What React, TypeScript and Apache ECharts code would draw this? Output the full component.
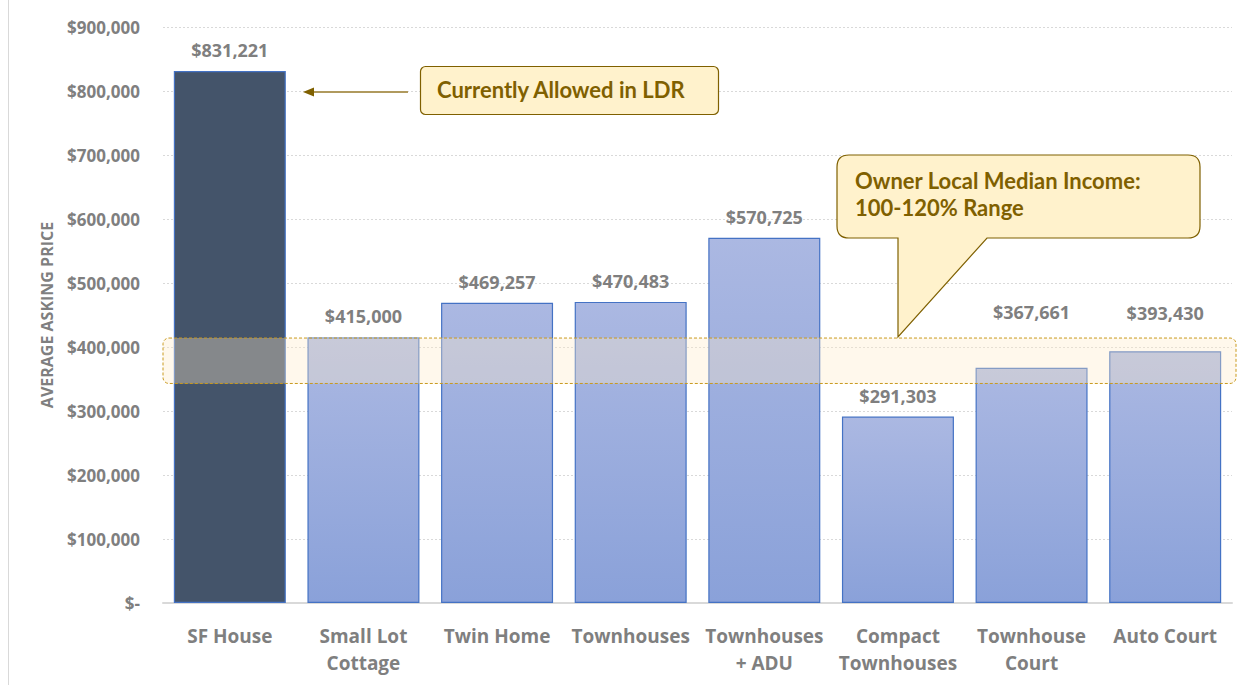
import React, { useEffect, useRef } from "react";
import * as echarts from "echarts";

const categories = [
  "SF House",
  "Small Lot\nCottage",
  "Twin Home",
  "Townhouses",
  "Townhouses\n+ ADU",
  "Compact\nTownhouses",
  "Townhouse\nCourt",
  "Auto Court",
];
const askingPrices = [831221, 415000, 469257, 470483, 570725, 291303, 367661, 393430];
const labelLift = [0, 0, 0, 0, 0, 0, 35, 17];
const yAxisMin = 0;
const yAxisMax = 900000;
const yAxisStep = 100000;
const incomeBand = [343000, 414000];
const ldrArrowValue = 800000;
const ldrText = "Currently Allowed in LDR";
const incomeText = ["Owner Local Median Income:", "100-120% Range"];

const BUBBLE_D =
  "M12,0 H351 Q363,0 363,12 V71 Q363,83 351,83 H150 L61,182 V83 H12 Q0,83 0,71 V12 Q0,0 12,0 Z";
echarts.graphic.registerShape("bubble", echarts.graphic.extendPath(BUBBLE_D, {}));

const GRAY = "#7f7f7f";
const GOLD_TEXT = "#7f6000";
const FONT = "'Open Sans', sans-serif";
const CALLOUT_FONT = "Lato, 'Open Sans', sans-serif";

const fmt = (v: number) => (v === 0 ? "$-" : "$" + v.toLocaleString("en-US"));

export default function App() {
  const ref = useRef<HTMLDivElement>(null);
  useEffect(() => {
    if (!ref.current) return;
    const chart = echarts.init(ref.current, null, { renderer: "svg" });
    const lightGrad = new echarts.graphic.LinearGradient(0, 0, 0, 1, [
      { offset: 0, color: "#abb8e2" },
      { offset: 1, color: "#8aa1d9" },
    ]);
    chart.setOption({
      animation: false,
      backgroundColor: "#ffffff",
      grid: { left: 163, right: 18, top: 27, bottom: 82, containLabel: false },
      xAxis: {
        type: "category",
        data: categories,
        axisTick: { show: false },
        axisLine: { lineStyle: { color: "#d9d9d9", width: 2 } },
        axisLabel: {
          color: GRAY,
          fontFamily: FONT,
          fontWeight: "bold",
          fontSize: 19,
          lineHeight: 27,
          margin: 19,
          interval: 0,
        },
      },
      yAxis: {
        type: "value",
        min: yAxisMin,
        max: yAxisMax,
        interval: yAxisStep,
        name: "AVERAGE ASKING PRICE",
        nameLocation: "middle",
        nameGap: 108,
        nameRotate: 90,
        nameTextStyle: { color: GRAY, fontFamily: FONT, fontWeight: "bold", fontSize: 16 },
        axisLine: { show: false },
        axisTick: { show: false },
        splitLine: { lineStyle: { color: "#d9d9d9", type: [2, 2], width: 1 } },
        axisLabel: {
          color: GRAY,
          fontFamily: FONT,
          fontWeight: "bold",
          fontSize: 17,
          margin: 23,
          formatter: (v: number) => fmt(v),
        },
      },
      series: [
        {
          type: "bar",
          barWidth: 112,
          data: askingPrices.map((v, i) => ({
            value: v,
            itemStyle:
              i === 0
                ? { color: "#44546a", borderColor: "#4472c4", borderWidth: 1.2 }
                : { color: lightGrad, borderColor: "#4472c4", borderWidth: 1.2 },
            label: { distance: 12 + labelLift[i] },
          })),
          label: {
            show: true,
            position: "top",
            distance: 12,
            color: GRAY,
            fontFamily: FONT,
            fontWeight: "bold",
            fontSize: 18,
            formatter: (p: any) => fmt(p.value),
          },
        },
      ],
    });

    const yTop = chart.convertToPixel({ yAxisIndex: 0 }, incomeBand[1]) as number;
    const yBot = chart.convertToPixel({ yAxisIndex: 0 }, incomeBand[0]) as number;
    const yArrow = chart.convertToPixel({ yAxisIndex: 0 }, ldrArrowValue) as number;

    chart.setOption({
      graphic: [
        {
          type: "line",
          shape: { x1: 8.5, y1: 0, x2: 8.5, y2: 685 },
          style: { stroke: "#d9d9d9", lineWidth: 1 },
          silent: true,
        },
        {
          type: "rect",
          shape: { x: 163, y: yTop, width: 1073, height: yBot - yTop, r: 6 },
          style: {
            fill: "rgba(255,235,200,0.35)",
            stroke: "#c99a1e",
            lineWidth: 1,
            lineDash: [3, 2],
          },
          z: 100,
          silent: true,
        },
        {
          type: "line",
          shape: { x1: 408, y1: yArrow + 1, x2: 312, y2: yArrow + 1 },
          style: { stroke: "#b09a5e", lineWidth: 2 },
          z: 100,
        },
        {
          type: "polygon",
          shape: {
            points: [
              [303, yArrow + 1],
              [314, yArrow - 3.5],
              [314, yArrow + 5.5],
            ],
          },
          style: { fill: GOLD_TEXT },
          z: 100,
        },
        {
          type: "rect",
          shape: { x: 420.5, y: 66.5, width: 298, height: 48, r: 5 },
          style: { fill: "#fff2cc", stroke: GOLD_TEXT, lineWidth: 1.2 },
          z: 100,
        },
        {
          type: "text",
          x: 437,
          y: 89,
          style: {
            text: ldrText,
            fill: GOLD_TEXT,
            font: "bold 22px " + CALLOUT_FONT,
            verticalAlign: "middle",
            align: "left",
          },
          z: 101,
        },
        {
          type: "bubble",
          x: 837,
          y: 155,
          style: { fill: "#fff2cc", stroke: GOLD_TEXT, lineWidth: 1.2 },
          z: 100,
        },
        {
          type: "text",
          x: 855,
          y: 180,
          style: {
            text: incomeText[0],
            fill: GOLD_TEXT,
            font: "bold 22px " + CALLOUT_FONT,
            verticalAlign: "middle",
            align: "left",
          },
          z: 101,
        },
        {
          type: "text",
          x: 855,
          y: 207,
          style: {
            text: incomeText[1],
            fill: GOLD_TEXT,
            font: "bold 22px " + CALLOUT_FONT,
            verticalAlign: "middle",
            align: "left",
          },
          z: 101,
        },
      ],
    });
    return () => chart.dispose();
  }, []);
  return (
    <div
      ref={ref}
      style={{ position: "fixed", left: 0, top: 0, width: 1250, height: 685, background: "#fff" }}
    />
  );
}
